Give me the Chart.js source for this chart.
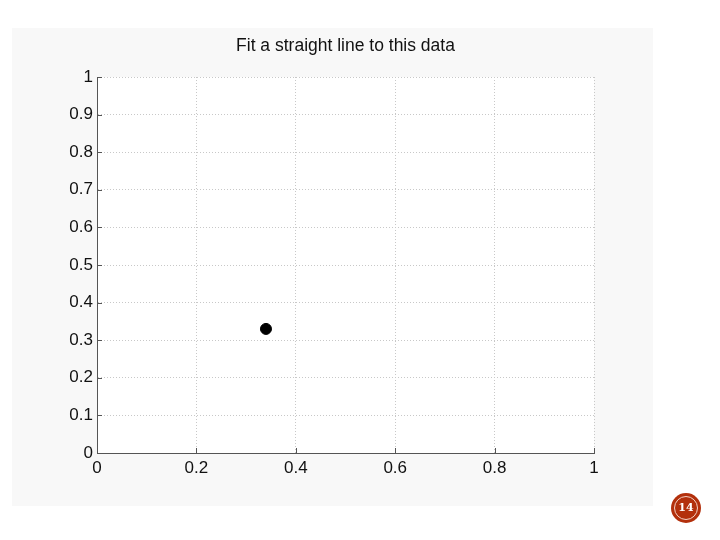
<!DOCTYPE html>
<html>
<head>
<meta charset="utf-8">
<script src="https://cdn.jsdelivr.net/npm/chart.js@4.4.0/dist/chart.umd.min.js"></script>
<style>
  html, body { margin: 0; padding: 0; background: #fff; }
  #wrap { position: relative; width: 720px; height: 540px; }
  #badge {
    position: absolute; left: 671px; top: 493px; width: 30px; height: 30px;
    border-radius: 50%; background: #b3300c;
  }
  #badge span {
    position: absolute; left: 3px; top: 3px; width: 22px; height: 22px;
    border: 1px solid #f3d2c6; border-radius: 50%;
    color: #fff; font: bold 11px "DejaVu Serif", "Liberation Serif", serif;
    text-align: center; line-height: 22px;
  }
</style>
</head>
<body>
<div id="wrap">
  <canvas id="chart1" width="720" height="540"></canvas>
  <div id="badge"><span>14</span></div>
</div>
<script>
const chartTitle = 'Fit a straight line to this data';
const xValues1 = [0.34];
const yValues1 = [0.33];

const fmt = v => String(Number(v.toFixed(2)));

// light figure panel + white axes box, title centred over the axes
const backdrop = {
  id: 'backdrop',
  beforeDraw(chart) {
    const c = chart.ctx, a = chart.chartArea;
    c.save();
    c.fillStyle = '#f8f8f8';
    c.fillRect(12, 28, 641, 478);
    c.fillStyle = '#ffffff';
    c.fillRect(a.left, a.top, a.right - a.left, a.bottom - a.top);
    c.restore();
  },
  afterDraw(chart) {
    const c = chart.ctx, a = chart.chartArea;
    c.save();
    c.fillStyle = '#111';
    c.font = '17.5px "Liberation Sans", Arial, sans-serif';
    c.textAlign = 'center';
    c.textBaseline = 'alphabetic';
    c.fillText(chartTitle, (a.left + a.right) / 2, 51);
    // inward tick marks, matlab style
    const xs = chart.scales.x, ys = chart.scales.y;
    c.strokeStyle = '#555';
    c.lineWidth = 1;
    c.beginPath();
    xs.ticks.forEach(t => {
      const px = Math.round(xs.getPixelForValue(t.value)) + 0.5;
      c.moveTo(px, a.bottom); c.lineTo(px, a.bottom - 5);
    });
    ys.ticks.forEach(t => {
      const py = Math.round(ys.getPixelForValue(t.value)) + 0.5;
      c.moveTo(a.left, py); c.lineTo(a.left + 5, py);
    });
    c.stroke();
    c.restore();
  }
};

new Chart("chart1", {
  type: "scatter",
  data: {
    datasets: [{
      data: xValues1.map((x, i) => ({ x: x, y: yValues1[i] })),
      backgroundColor: '#000',
      borderColor: '#000',
      pointRadius: 5.5,
      pointHoverRadius: 5.5
    }]
  },
  options: {
    responsive: false,
    animation: false,
    layout: { padding: { top: 77, left: 0, right: 126, bottom: 57 } },
    plugins: {
      legend: { display: false },
      tooltip: { enabled: false }
    },
    scales: {
      x: {
        type: 'linear',
        min: 0, max: 1,
        afterFit: s => { s.height = 30; },
        ticks: {
          stepSize: 0.2,
          padding: 5,
          color: '#111',
          callback: fmt,
          font: { family: '"Liberation Sans", Arial, sans-serif', size: 17 }
        },
        grid: { color: '#c8c8c8', drawTicks: false },
        border: { display: true, color: '#555', width: 1, dash: [1, 2] }
      },
      y: {
        type: 'linear',
        min: 0, max: 1,
        afterFit: s => { s.width = 97; },
        ticks: {
          stepSize: 0.1,
          padding: 4,
          color: '#111',
          callback: fmt,
          font: { family: '"Liberation Sans", Arial, sans-serif', size: 17 }
        },
        grid: { color: '#c8c8c8', drawTicks: false },
        border: { display: true, color: '#555', width: 1, dash: [1, 2] }
      }
    }
  },
  plugins: [backdrop]
});
</script>
</body>
</html>
